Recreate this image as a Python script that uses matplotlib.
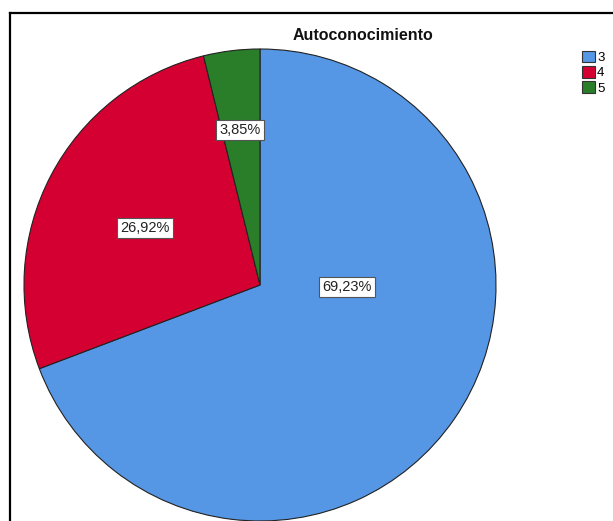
import matplotlib
matplotlib.use("Agg")
import matplotlib.pyplot as plt
from matplotlib.lines import Line2D
from matplotlib.patches import Patch

plt.rcParams['font.family'] = ['Liberation Sans', 'DejaVu Sans']

title = "Autoconocimiento"
categories = ["3", "4", "5"]
values = [69.23, 26.92, 3.85]
labels = ["69,23%", "26,92%", "3,85%"]
colors = ["#5596E5", "#D50032", "#2A7E2A"]

W, H = 613, 521
fig = plt.figure(figsize=(W / 100, H / 100), dpi=100)
ax = fig.add_axes([0, 0, 1, 1])

cx, cy, R = 260, H - 285, 236
wedges, _ = ax.pie(values, colors=colors, startangle=90, counterclock=False,
                   center=(cx, cy), radius=R,
                   wedgeprops=dict(edgecolor="#222222", linewidth=0.8))
ax.set_xlim(0, W)
ax.set_ylim(0, H)
ax.set_aspect('equal')
ax.axis('off')

# label positions (pixel layout)
label_pos = [(347, 287), (145, 228), (240, 130)]
for (px, py), t in zip(label_pos, labels):
    ax.text(px, H - py, t, ha='center', va='center', fontsize=10.5, color='#222222',
            bbox=dict(boxstyle='square,pad=0.2', facecolor='white', edgecolor='#555555', linewidth=0.8))

fig.text(363 / W, 1 - 36 / H, title, ha='center', va='center', fontsize=11.5,
         fontweight='bold', color='#111111')

handles = [Patch(facecolor=c, edgecolor='#333333', linewidth=0.8) for c in colors]
fig.legend(handles, categories, loc='upper left', bbox_to_anchor=(582 / W, 1 - 51 / H),
           frameon=False, fontsize=9.5, handlelength=0.95, handleheight=0.95,
           handletextpad=0.2, labelspacing=0.15, borderpad=0, borderaxespad=0)

# outer frame
fig.add_artist(Line2D([10 / W, 10 / W], [0, 1 - 13 / H], color='black', linewidth=1.6,
                      transform=fig.transFigure))
fig.add_artist(Line2D([10 / W, 1], [1 - 13 / H, 1 - 13 / H], color='black', linewidth=1.6,
                      transform=fig.transFigure))

fig.savefig("out.png", dpi=100, facecolor='white')
